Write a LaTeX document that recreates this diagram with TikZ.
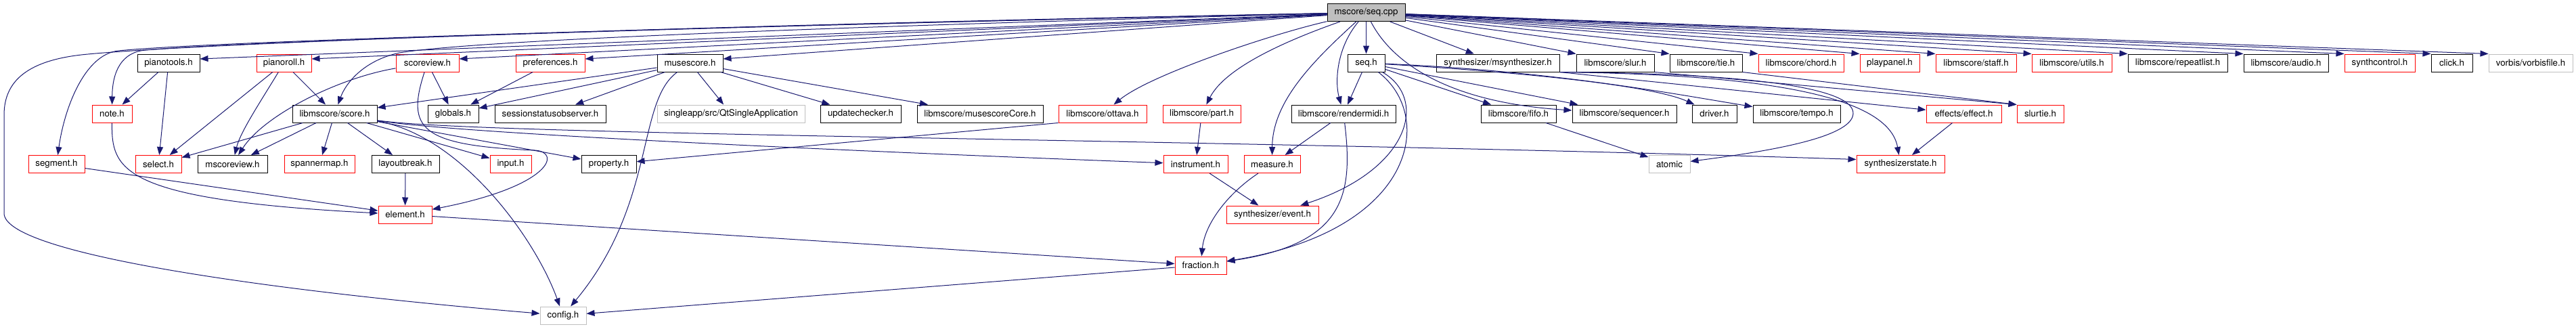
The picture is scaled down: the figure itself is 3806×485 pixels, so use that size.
\documentclass[tikz,border=0pt]{standalone}
\usepackage{fontspec}
\setmainfont{TeX Gyre Heros}
\usepackage{xcolor}
\definecolor{dxblue}{RGB}{25,25,112}
\definecolor{dxred}{RGB}{255,0,0}
\definecolor{dxgray}{RGB}{191,191,191}
\usepackage{tikz}
\usetikzlibrary{arrows.meta}

\begin{document}
\begin{tikzpicture}[x=1pt, y=-1pt,
  hbox/.style={draw=black, line width=1pt, minimum height=26pt, inner sep=2pt,
    font=\fontsize{13.3pt}{16pt}\selectfont},
  hred/.style={hbox, draw=dxred},
  hgray/.style={hbox, draw=dxgray},
  hroot/.style={hbox, fill=dxgray},
  incl/.style={-{Triangle[length=12pt,width=9pt]}, dxblue, line width=1pt}]

\useasboundingbox (0,0) rectangle (3806,485);

% Root file
\node[hroot, minimum width=115pt] (seqcpp) at (2018.5,18.5) {mscore/seq.cpp};

% Row 2
\node[hbox,  minimum width=92pt]  (pianotools)   at (249,93)    {pianotools.h};
\node[hred,  minimum width=81pt]  (pianoroll)    at (419.5,93)  {pianoroll.h};
\node[hred,  minimum width=93pt]  (scoreview)    at (631.5,93)  {scoreview.h};
\node[hred,  minimum width=102pt] (preferences)  at (813,93)    {preferences.h};
\node[hbox,  minimum width=97pt]  (musescore)    at (1019.5,93) {musescore.h};
\node[hbox,  minimum width=55pt]  (seqh)         at (2018.5,93) {seq.h};
\node[hbox,  minimum width=182pt] (msynth)       at (2213,93)   {synthesizer/msynthesizer.h};
\node[hbox,  minimum width=115pt] (slur)         at (2386.5,93) {libmscore/slur.h};
\node[hbox,  minimum width=107pt] (tie)          at (2520.5,93) {libmscore/tie.h};
\node[hred,  minimum width=126pt] (chord)        at (2661,93)   {libmscore/chord.h};
\node[hred,  minimum width=88pt]  (playpanel)    at (2792,93)   {playpanel.h};
\node[hred,  minimum width=119pt] (staff)        at (2919.5,93) {libmscore/staff.h};
\node[hred,  minimum width=118pt] (utils)        at (3061,93)   {libmscore/utils.h};
\node[hbox,  minimum width=147pt] (repeatlist)   at (3217.5,93) {libmscore/repeatlist.h};
\node[hbox,  minimum width=125pt] (audio)        at (3377.5,93) {libmscore/audio.h};
\node[hred,  minimum width=104pt] (synthcontrol) at (3516,93)   {synthcontrol.h};
\node[hbox,  minimum width=61pt]  (click)        at (3622.5,93) {click.h};
\node[hgray, minimum width=124pt] (vorbis)       at (3739,93)   {vorbis/vorbisfile.h};

% Row 3
\node[hred,  minimum width=59pt]  (note)         at (165.5,168)  {note.h};
\node[hbox,  minimum width=125pt] (score)        at (494.5,168)  {libmscore/score.h};
\node[hbox,  minimum width=75pt]  (globals)      at (669.5,168)  {globals.h};
\node[hbox,  minimum width=164pt] (sessobs)      at (813,168)    {sessionstatusobserver.h};
\node[hgray, minimum width=218pt] (qtsingle)     at (1080,168)   {singleapp/src/QtSingleApplication};
\node[hbox,  minimum width=119pt] (updchk)       at (1271.5,168) {updatechecker.h};
\node[hbox,  minimum width=186pt] (mscorecore)   at (1448,168)   {libmscore/musescoreCore.h};
\node[hred,  minimum width=130pt] (ottava)       at (1629,168)   {libmscore/ottava.h};
\node[hred,  minimum width=115pt] (part)         at (1775.5,168) {libmscore/part.h};
\node[hbox,  minimum width=154pt] (rendermidi)   at (1985,168)   {libmscore/rendermidi.h};
\node[hbox,  minimum width=111pt] (fifo)         at (2243.5,168) {libmscore/fifo.h};
\node[hbox,  minimum width=154pt] (sequencer)    at (2400,168)   {libmscore/sequencer.h};
\node[hbox,  minimum width=66pt]  (driver)       at (2533,168)   {driver.h};
\node[hbox,  minimum width=129pt] (tempo)        at (2654.5,168) {libmscore/tempo.h};
\node[hred,  minimum width=111pt] (effect)       at (2901.5,168) {effects/effect.h};
\node[hred,  minimum width=69pt]  (slurtie)      at (3014.5,168) {slurtie.h};

% Row 4
\node[hred,  minimum width=83pt]  (segment)      at (83.5,242.5)   {segment.h};
\node[hred,  minimum width=68pt]  (select)       at (234,242.5)    {select.h};
\node[hbox,  minimum width=103pt] (mscoreview)   at (343.5,242.5)  {mscoreview.h};
\node[hred,  minimum width=104pt] (spannermap)   at (472,242.5)    {spannermap.h};
\node[hbox,  minimum width=100pt] (layoutbreak)  at (599,242.5)    {layoutbreak.h};
\node[hred,  minimum width=61pt]  (input)        at (754.5,242.5)  {input.h};
\node[hbox,  minimum width=81pt]  (property)     at (899.5,242.5)  {property.h};
\node[hred,  minimum width=95pt]  (instrument)   at (1766.5,242.5) {instrument.h};
\node[hred,  minimum width=83pt]  (measure)      at (1879.5,242.5) {measure.h};
\node[hgray, minimum width=61pt]  (atomic)       at (2466.5,242.5) {atomic};
\node[hred,  minimum width=130pt] (synthstate)   at (2808,242.5)   {synthesizerstate.h};

% Rows 5 to 7
\node[hred,  minimum width=79pt]  (element)      at (598.5,317) {element.h};
\node[hred,  minimum width=136pt] (event)        at (1880,317)  {synthesizer/event.h};
\node[hred,  minimum width=76pt]  (fraction)     at (1774,392)  {fraction.h};
\node[hgray, minimum width=68pt]  (config)       at (832,466)   {config.h};

% Arrows from seq.cpp
\draw[incl] (seqcpp) -- ([yshift=6pt]pianotools.east);
\draw[incl] (seqcpp) -- ([yshift=6pt]pianoroll.east);
\draw[incl] (seqcpp) -- ([yshift=6pt]scoreview.east);
\draw[incl] (seqcpp) -- ([yshift=6pt]preferences.east);
\draw[incl] (seqcpp) -- ([yshift=6pt]musescore.east);
\draw[incl] (seqcpp) -- (seqh);
\draw[incl] (seqcpp) -- (msynth);
\draw[incl] (seqcpp) -- (slur.north west);
\draw[incl] (seqcpp) -- (tie.north west);
\draw[incl] (seqcpp) -- (chord.north west);
\draw[incl] (seqcpp) -- (playpanel.north west);
\draw[incl] (seqcpp) -- (staff.north west);
\draw[incl] (seqcpp) -- (utils.north west);
\draw[incl] (seqcpp) -- (repeatlist.north west);
\draw[incl] (seqcpp) -- (audio.north west);
\draw[incl] (seqcpp) -- (synthcontrol.north west);
\draw[incl] (seqcpp) -- (click.north west);
\draw[incl] (seqcpp) -- (vorbis.north west);
\draw[incl] (seqcpp) .. controls (1000,40) and (350,62) .. (215,74)
  .. controls (180,77) and (166,105) .. (note);
\draw[incl] (seqcpp) .. controls (1000,40) and (300,62) .. (175,75)
  .. controls (125,80) and (95,160) .. (segment);
\draw[incl] (seqcpp) .. controls (1000,38) and (300,64) .. (130,80)
  .. controls (40,88) and (6,120) .. (6,170) -- (6,315)
  .. controls (6,375) and (400,430) .. (config);
\draw[incl] (seqcpp) .. controls (1200,40) and (700,60) .. (590,78)
  .. controls (535,90) and (510,125) .. (score);
\draw[incl] (seqcpp) .. controls (1880,50) and (1700,110) .. (ottava);
\draw[incl] (seqcpp) .. controls (1900,60) and (1810,100) .. (part);
\draw[incl] (seqcpp) .. controls (1940,90) and (1880,150) .. (measure);
\draw[incl] (seqcpp) .. controls (1975,70) and (1972,120) .. (rendermidi);
\draw[incl] (seqcpp) .. controls (2050,80) and (2120,150) .. (sequencer);

% Left group
\draw[incl] (pianotools) -- (note);
\draw[incl] (pianotools) -- (select);
\draw[incl] (pianoroll) -- (select);
\draw[incl] (pianoroll) .. controls (385,150) and (355,195) .. (mscoreview);
\draw[incl] (pianoroll) -- (score);
\draw[incl] (scoreview) .. controls (500,115) and (390,170) .. (mscoreview);
\draw[incl] (scoreview) -- (globals);
\draw[incl] (scoreview) .. controls (600,190) and (620,215) .. (790,222)
  .. controls (830,224) and (815,275) .. (element);
\draw[incl] (preferences) -- (globals);
\draw[incl] (note) .. controls (165,250) and (175,295) .. (element);
\draw[incl] (segment) -- (element);
\draw[incl] (layoutbreak) -- (element);

% musescore.h
\draw[incl] (musescore) -- (score);
\draw[incl] (musescore) -- (globals);
\draw[incl] (musescore) -- (sessobs);
\draw[incl] (musescore) -- (qtsingle);
\draw[incl] (musescore) -- (updchk);
\draw[incl] (musescore) -- (mscorecore);
\draw[incl] (musescore) .. controls (940,150) and (970,300) .. (config);

% libmscore/score.h
\draw[incl] (score) -- (select);
\draw[incl] (score) -- (mscoreview);
\draw[incl] (score) -- (spannermap);
\draw[incl] (score) -- (layoutbreak);
\draw[incl] (score) -- (input);
\draw[incl] (score) -- (property);
\draw[incl] (score) .. controls (680,198) and (1300,225) .. (instrument);
\draw[incl] (score) .. controls (700,200) and (1800,205) .. ([yshift=7pt]synthstate.west);
\draw[incl] (score) .. controls (680,200) and (790,350) .. (config);

% Middle group
\draw[incl] (element) -- (fraction);
\draw[incl] (fraction) -- (config);
\draw[incl] (ottava.south west) -- (property);
\draw[incl] (part) -- (instrument);
\draw[incl] (instrument) -- (event);
\draw[incl] (measure) .. controls (1815,285) and (1780,330) .. (fraction);
\draw[incl] (rendermidi) -- (measure);
\draw[incl] (rendermidi) .. controls (2000,290) and (1985,360) .. (fraction);

% seq.h
\draw[incl] (seqh) -- (rendermidi);
\draw[incl] (seqh) -- (fifo);
\draw[incl] (seqh) -- (sequencer);
\draw[incl] (seqh) .. controls (2300,110) and (2450,130) .. (driver);
\draw[incl] (seqh) .. controls (2300,105) and (2480,140) .. (tempo);
\draw[incl] (seqh) .. controls (2110,145) and (2085,250) .. (event);
\draw[incl] (seqh) .. controls (2120,170) and (2095,340) .. (fraction);
\draw[incl] (fifo) -- (atomic);

% Right group
\draw[incl] (msynth.south east) -- (effect);
\draw[incl] (msynth.south east) .. controls (2600,110) and (2790,140) .. (synthstate);
\draw[incl] (msynth.south east) .. controls (2550,108) and (2740,125) .. (2738,168)
  .. controls (2736,205) and (2600,225) .. (atomic);
\draw[incl] (slur.south east) -- (slurtie.north west);
\draw[incl] (tie.south east) -- (slurtie.north west);
\draw[incl] (effect) -- (synthstate);

\end{tikzpicture}
\end{document}
